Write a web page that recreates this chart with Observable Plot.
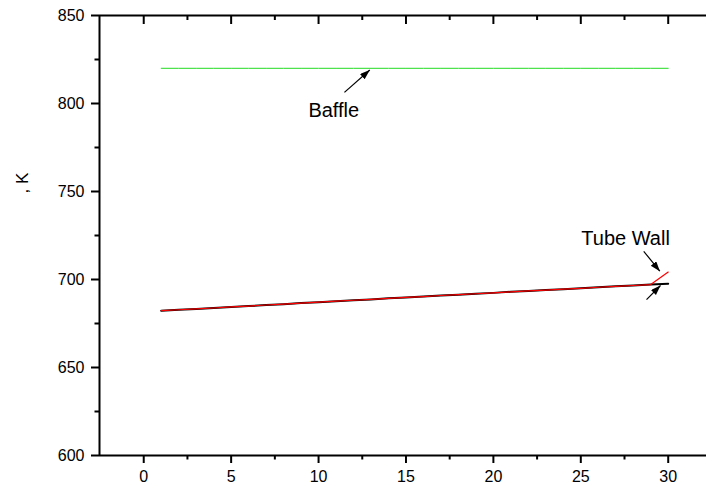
<!DOCTYPE html>
<html>
<head>
<meta charset="utf-8">
<script src="https://cdn.jsdelivr.net/npm/d3@7"></script>
<script src="https://cdn.jsdelivr.net/npm/@observablehq/plot@0.6"></script>
<style>
  html, body { margin: 0; padding: 0; background: #fff; }
  #chart { width: 706px; height: 495px; }
</style>
</head>
<body>
<div id="chart"></div>
<script>
// ---- data ----
const position = [1,2,3,4,5,6,7,8,9,10,11,12,13,14,15,16,17,18,19,20,21,22,23,24,25,26,27,28,29,30];
const tubeWallBlack = [682.3,682.8,683.3,683.8,684.4,684.9,685.5,686.0,686.6,687.1,687.7,688.2,688.7,689.3,689.8,690.3,690.9,691.4,691.9,692.4,693.0,693.5,694.0,694.5,695.0,695.6,696.1,696.6,697.1,697.6];
const tubeWallRed   = [682.3,682.8,683.3,683.8,684.4,684.9,685.5,686.0,686.6,687.1,687.7,688.2,688.7,689.3,689.8,690.3,690.9,691.4,691.9,692.4,693.0,693.5,694.0,694.5,695.0,695.6,696.1,696.6,697.1,704.2];
const baffle        = [820,820,820,820,820,820,820,820,820,820,820,820,820,820,820,820,820,820,820,820,820,820,820,820,820,820,820,820,820,820];

const xTicks = [0,5,10,15,20,25,30];
const xMinorTicks = [2.5,7.5,12.5,17.5,22.5,27.5];
const yTicks = [600,650,700,750,800,850];
const yMinorTicks = [625,675,725,775,825];
const yLabel = ", K";

const labels = [
  {text: "Baffle", x: 10.87, y: 795.9},
  {text: "Tube Wall", x: 27.56, y: 723.3}
];
const arrows = [
  {x1: 11.48, y1: 806.3, x2: 12.93, y2: 819.0},
  {x1: 28.60, y1: 716.0, x2: 29.52, y2: 704.7},
  {x1: 28.76, y1: 688.6, x2: 29.56, y2: 696.6}
];

const black = position.map((x, i) => ({x, y: tubeWallBlack[i]}));
const red = position.map((x, i) => ({x, y: tubeWallRed[i]}));
const green = position.map((x, i) => ({x, y: baffle[i]}));

const font = "'Liberation Sans', Arial, sans-serif";

const chart = Plot.plot({
  width: 706,
  height: 495,
  marginLeft: 99,
  marginRight: 0,
  marginTop: 15,
  marginBottom: 40,
  style: {fontFamily: font, fontSize: "16px", color: "#000", background: "#fff", overflow: "visible"},
  x: {domain: [-2.53, 32.19]},
  y: {domain: [600, 850]},
  marks: [
    // axes
    Plot.axisX({ticks: xTicks, tickSize: 8, tickPadding: 7, strokeWidth: 2, fontSize: 16, label: null}),
    Plot.axisX({ticks: xMinorTicks, tickSize: 4.5, strokeWidth: 2, text: null, label: null}),
    Plot.axisY({ticks: yTicks, tickSize: 8, tickPadding: 7, strokeWidth: 2, fontSize: 16, label: null}),
    Plot.axisY({ticks: yMinorTicks, tickSize: 4.5, strokeWidth: 2, text: null, label: null}),
    // top frame inward ticks
    Plot.ruleX(xTicks, {x: d => d, y1: 850, y2: 850, insetBottom: -9, strokeWidth: 2, stroke: "#000"}),
    Plot.ruleX(xMinorTicks, {x: d => d, y1: 850, y2: 850, insetBottom: -5, strokeWidth: 2, stroke: "#000"}),
    // frame lines
    Plot.ruleY([600, 850], {strokeWidth: 2, stroke: "#000"}),
    Plot.ruleX([-2.53], {strokeWidth: 2, stroke: "#000"}),
    // data lines
    Plot.line(green, {x: "x", y: "y", stroke: "#22dd22", strokeWidth: 1}),
    Plot.line(black, {x: "x", y: "y", stroke: "#000", strokeWidth: 2}),
    Plot.line(red, {x: "x", y: "y", stroke: "#ff0000", strokeWidth: 1.2}),
    // annotations
    Plot.link(arrows, {x1: "x1", y1: "y1", x2: "x2", y2: "y2", stroke: "#000", strokeWidth: 1.2}),
    Plot.text(labels, {x: "x", y: "y", text: "text", fontSize: 20, fill: "#000"}),
    Plot.text([yLabel], {frameAnchor: "left", dx: -77, dy: -42, rotate: -90, fontSize: 17, fill: "#000"})
  ]
});

// filled arrowheads
const ns = "http://www.w3.org/2000/svg";
const defs = document.createElementNS(ns, "defs");
const marker = document.createElementNS(ns, "marker");
marker.setAttribute("id", "ahead");
marker.setAttribute("markerUnits", "userSpaceOnUse");
marker.setAttribute("markerWidth", "11");
marker.setAttribute("markerHeight", "8");
marker.setAttribute("refX", "10");
marker.setAttribute("refY", "3.5");
marker.setAttribute("orient", "auto");
const mp = document.createElementNS(ns, "path");
mp.setAttribute("d", "M0,0 L10,3.5 L0,7 Z");
mp.setAttribute("fill", "#000");
marker.appendChild(mp);
defs.appendChild(marker);
chart.insertBefore(defs, chart.firstChild);
chart.querySelectorAll('g[aria-label="link"] path').forEach(p => p.setAttribute("marker-end", "url(#ahead)"));

document.getElementById("chart").appendChild(chart);
</script>
</body>
</html>
